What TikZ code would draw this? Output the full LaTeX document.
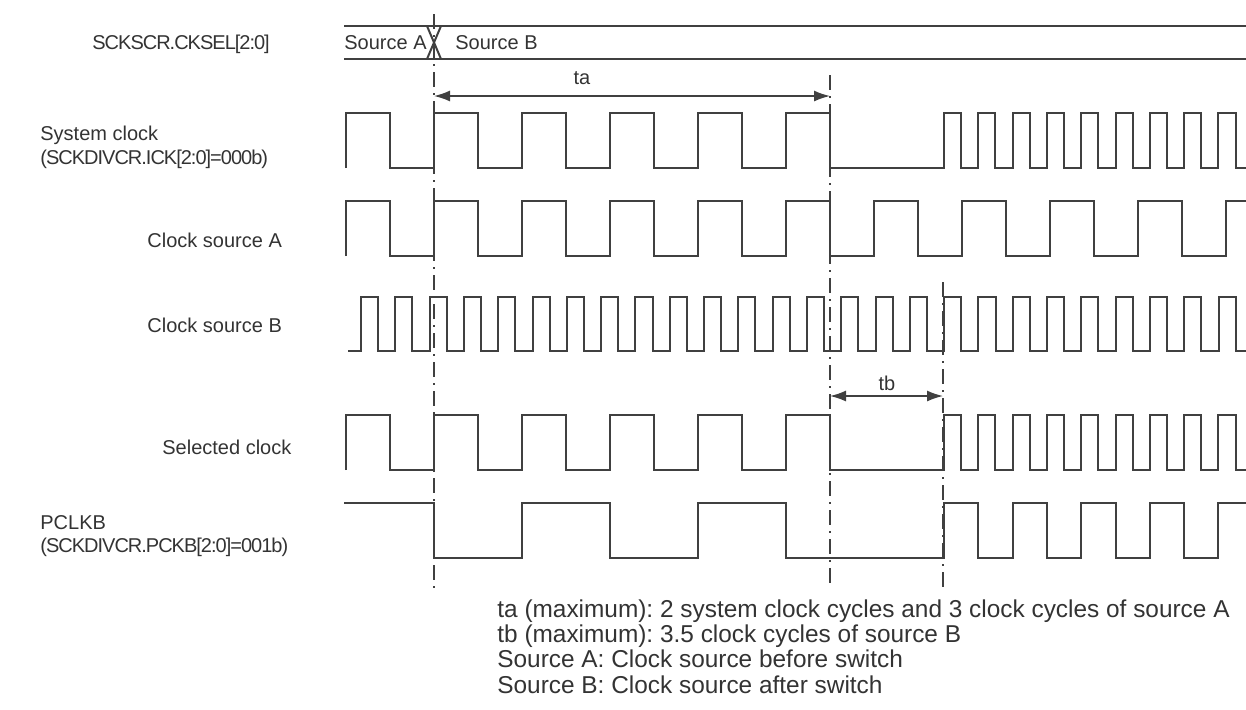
\documentclass[tikz,border=0pt]{standalone}
\usepackage{fontspec}
\setmainfont{Liberation Sans}
\usepackage{tikz}
\usetikzlibrary{arrows.meta}
\definecolor{wavegray}{HTML}{404040}
\definecolor{textgray}{HTML}{333333}
\frenchspacing

\begin{document}
\begin{tikzpicture}[x=0.5pt, y=-0.5pt,
        wave/.style={draw=wavegray, line width=1pt},
        guide/.style={draw=wavegray, line width=0.7pt, dash pattern=on 7.5pt off 3pt on 1pt off 3pt},
        dim/.style={{Latex[length=8pt,width=5.5pt]}-{Latex[length=8pt,width=5.5pt]}, draw=wavegray, line width=0.75pt},
        lbl/.style={anchor=base west, inner sep=0pt, text=textgray, font=\fontsize{10}{12}\selectfont},
        reg/.style={lbl, font=\fontsize{10}{12}\selectfont\addfontfeature{LetterSpace=-5}},
        note/.style={anchor=base west, inner sep=0pt, text=textgray, font=\fontsize{12.2}{14}\selectfont}]
        \useasboundingbox (0,0) rectangle (1246,709);

        \node (cksel)   at (92,49)   [reg] {SCKSCR.CKSEL[2:0]};
        \node (srcAbus) at (344,49)  [lbl] {Source A};
        \node (srcBbus) at (455,49)  [lbl] {Source B};
        \node (sysclk)  at (40,140)  [lbl] {System clock};
        \node (sysdiv)  at (40,164)  [reg] {(SCKDIVCR.ICK[2:0]=000b)};
        \node (clkA)    at (147,247) [lbl] {Clock source A};
        \node (clkB)    at (147,332) [lbl] {Clock source B};
        \node (selclk)  at (162,454) [lbl] {Selected clock};
        \node (pclkb)   at (40,529)  [lbl] {PCLKB};
        \node (pckdiv)  at (40,552)  [reg] {(SCKDIVCR.PCKB[2:0]=001b)};

        \node (notea)   at (497,617) [note] {ta (maximum): 2 system clock cycles and 3 clock cycles of source A};
        \node (noteb)   at (497,642) [note] {tb (maximum): 3.5 clock cycles of source B};
        \node (notec)   at (497,667) [note] {Source A: Clock source before switch};
        \node (noted)   at (497,693) [note] {Source B: Clock source after switch};

        \coordinate (sw)    at (434,14);
        \coordinate (swend) at (434,588);
        \coordinate (ck)    at (830,75);
        \coordinate (ckend) at (830,588);
        \coordinate (rs)    at (943,282);
        \coordinate (rsend) at (943,588);

        \draw[guide] (sw) -- (swend);
        \draw[guide] (ck) -- (ckend);
        \draw[guide] (rs) -- (rsend);

        \draw[wave] (344,26) -- (1246,26);
        \draw[wave] (344,59) -- (1246,59);
        \draw[wave] (427,26) -- (441,59);
        \draw[wave] (427,59) -- (441,26);

        \coordinate (taL) at (434,96);
        \coordinate (taR) at (830,96);
        \draw[dim] (taL) -- (taR);
        \node (ta) at (582,78) [lbl, anchor=center] {ta};

        \coordinate (tbL) at (830,396);
        \coordinate (tbR) at (943,396);
        \draw[dim] (tbL) -- (tbR);
        \node (tb) at (887,383) [lbl, anchor=center] {tb};

        \draw[wave] (346,168) \foreach \k in {1,...,5} { -- ++(0,-55) -- ++(44,0) -- ++(0,55) -- ++(44,0) }
            -- ++(0,-55) -- ++(44,0) -- ++(0,55) -- (944,168)
            \foreach \k in {1,...,8} { -- ++(0,-55) -- ++(17.15,0) -- ++(0,55) -- ++(17.15,0) }
            -- ++(0,-55) -- ++(17.15,0) -- ++(0,55) -- (1246,168);

        \draw[wave] (346,256) \foreach \k in {1,...,10} { -- ++(0,-55) -- ++(44,0) -- ++(0,55) -- ++(44,0) }
            -- ++(0,-55) -- (1246,201);

        \draw[wave] (348,351) -- (361,351) \foreach \k in {1,...,25} { -- ++(0,-54) -- ++(17.15,0) -- ++(0,54) -- ++(17.15,0) }
            -- ++(0,-54) -- ++(17.15,0) -- ++(0,54) -- (1246,351);

        \draw[wave] (346,470) \foreach \k in {1,...,5} { -- ++(0,-55) -- ++(44,0) -- ++(0,55) -- ++(44,0) }
            -- ++(0,-55) -- ++(44,0) -- ++(0,55) -- (944,470)
            \foreach \k in {1,...,8} { -- ++(0,-55) -- ++(17.15,0) -- ++(0,55) -- ++(17.15,0) }
            -- ++(0,-55) -- ++(17.15,0) -- ++(0,55) -- (1246,470);

        \draw[wave] (344,503) -- (434,503) -- (434,558) -- (522,558) -- (522,503) -- (610,503) -- (610,558)
            -- (698,558) -- (698,503) -- (786,503) -- (786,558) -- (944,558)
            \foreach \k in {1,...,4} { -- ++(0,-55) -- ++(34.3,0) -- ++(0,55) -- ++(34.3,0) }
            -- ++(0,-55) -- (1246,503);
    \end{tikzpicture}
\end{document}
